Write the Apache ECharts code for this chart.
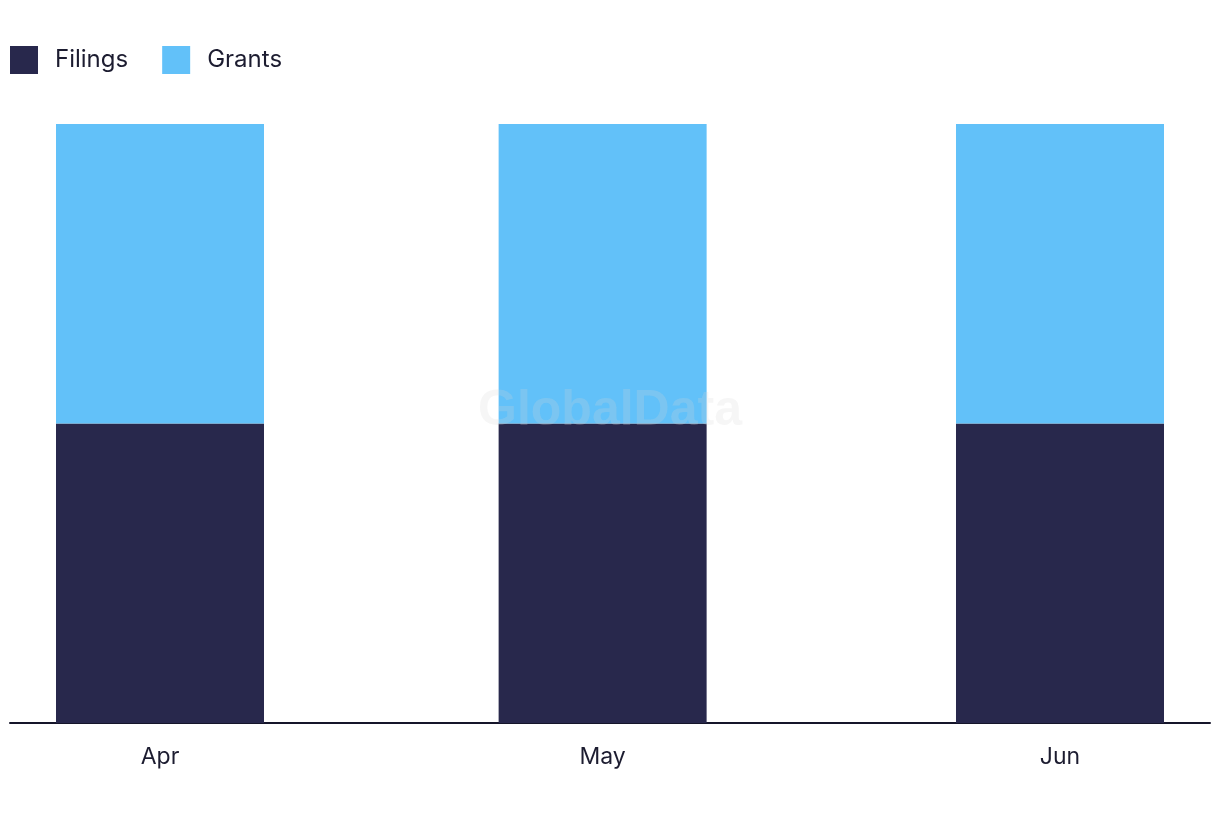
<!DOCTYPE html>
<html>
<head>
<meta charset="utf-8">
<script src="https://cdn.jsdelivr.net/npm/echarts@6/dist/echarts.min.js"></script>
<style>
html,body{margin:0;padding:0;background:#fff;}
#chart{width:1220px;height:822px;}
</style>
</head>
<body>
<div id="chart"></div>
<script>
const months = ['2024-04-01', '2024-05-01', '2024-06-01'];
const monthLabels = ['Apr', 'May', 'Jun'];
const filings = [50, 50, 50];
const grants = [50, 50, 50];
const seriesNames = ['Filings', 'Grants'];

const toTs = s => { const p = s.split('-').map(Number); return Date.UTC(p[0], p[1] - 1, p[2]); };
const DAY = 86400000;
const times = months.map(toTs);
const chart = echarts.init(document.getElementById('chart'));
const txt = '#1c1c30';
chart.setOption({
  useUTC: true,
  animation: false,
  textStyle: { fontFamily: 'Inter, Lato, sans-serif' },
  legend: {
    left: 10, top: 46, padding: 0, itemWidth: 28, itemHeight: 28, itemGap: 34,
    icon: 'rect',
    textStyle: { fontSize: 24, color: txt, padding: [0, 0, 0, 12], fontFamily: 'Inter' },
    data: seriesNames
  },
  grid: { left: 10, right: 10, top: 124, bottom: 99, containLabel: false },
  xAxis: {
    type: 'time',
    min: times[0] - 3.118 * DAY,
    max: times[2] + 3.118 * DAY,
    minInterval: 28 * DAY,
    axisLine: { show: true, lineStyle: { color: '#15152a', width: 2 } },
    axisTick: { show: false },
    splitLine: { show: false },
    axisLabel: {
      color: txt, fontSize: 23, margin: 23, fontFamily: 'Inter',
      showMinLabel: false, showMaxLabel: false,
      formatter: v => { const i = times.indexOf(v); return i >= 0 ? monthLabels[i] : ''; }
    }
  },
  yAxis: { type: 'value', min: 0, max: 100, show: false, splitLine: { show: false } },
  series: [
    { name: seriesNames[0], type: 'bar', stack: 's', barWidth: 208,
      itemStyle: { color: '#28284c' },
      data: times.map((t, i) => [t, filings[i]]) },
    { name: seriesNames[1], type: 'bar', stack: 's', barWidth: 208,
      itemStyle: { color: '#62c1f9' },
      data: times.map((t, i) => [t, grants[i]]) }
  ],
  graphic: [{
    type: 'text', left: 'center', top: 386, z: 100,
    style: { text: 'GlobalData', fontSize: 50, fontWeight: 'bold',
      fontFamily: 'Liberation Sans, Arial, sans-serif', fill: 'rgba(215,215,215,0.22)' }
  }]
});
</script>
</body>
</html>
